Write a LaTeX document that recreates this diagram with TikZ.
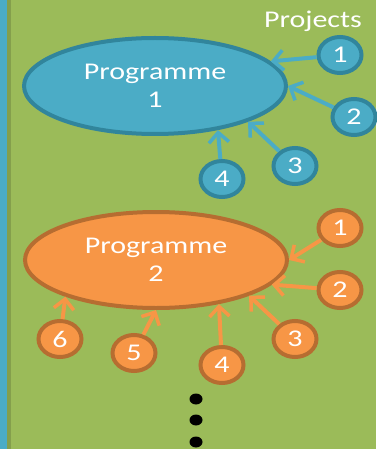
\documentclass[tikz,border=0pt]{standalone}
\usepackage{fontspec}
\usepackage{graphicx}
\setmainfont{Carlito}
\usetikzlibrary{shapes.geometric,arrows.meta}

\definecolor{slide}{HTML}{9BBB59}
\definecolor{slidedark}{HTML}{849F4C}
\definecolor{bluefill}{HTML}{4BACC6}
\definecolor{blueedge}{HTML}{31859C}
\definecolor{orangefill}{HTML}{F79646}
\definecolor{orangeedge}{HTML}{B66D31}

% letters run a bit wider than the plain font
\newcommand{\wide}[1]{\scalebox{1.25}[1]{#1}}

\begin{document}
\begin{tikzpicture}[x=1pt,y=-1pt]
		\tikzstyle{prog}=[ellipse,line width=4pt,inner sep=0pt,minimum width=262pt,minimum height=96pt,text=white,align=center,font=\fontsize{24}{28}\selectfont]
		\tikzstyle{proj}=[ellipse,line width=4pt,inner sep=0pt,minimum width=43pt,minimum height=36pt,text=white,font=\fontsize{24}{28}\selectfont]
		\tikzstyle{link}=[line width=4pt,-{Straight Barb[length=10pt,width=20pt,line width=3.5pt]}]
		
		\useasboundingbox (0,0) rectangle (376,449);
		\fill[slide] (0,0) rectangle (376,449);
		\fill[bluefill] (0,0) rectangle (7,449);
		\fill[slidedark] (7,0) rectangle (11,449);
		
		\node[text=white,anchor=base,font=\fontsize{24}{28}\selectfont] (projects) at (313,28) {\wide{Projects}};
		
		% first programme
		\node[prog,draw=blueedge,fill=bluefill] (prog1) at (155,86) {\wide{Programme}\\\wide{1}};
		\node[proj,draw=blueedge,fill=bluefill] (b1) at (340,55) {\wide{1}};
		\node[proj,draw=blueedge,fill=bluefill] (b2) at (354,117) {\wide{2}};
		\node[proj,draw=blueedge,fill=bluefill] (b3) at (295,166) {\wide{3}};
		\node[proj,draw=blueedge,fill=bluefill] (b4) at (222,179) {\wide{4}};
		
		\draw[link,bluefill] (b1) -- (prog1.12);
		\draw[link,bluefill] (b2) -- (prog1.east);
		\draw[link,bluefill] (b3) -- (prog1.-21);
		\draw[link,bluefill] (b4) -- (prog1.-35);
		
		% second programme
		\node[prog,draw=orangeedge,fill=orangefill] (prog2) at (156,260) {\wide{Programme}\\\wide{2}};
		\node[proj,draw=orangeedge,fill=orangefill] (o1) at (340,228) {\wide{1}};
		\node[proj,draw=orangeedge,fill=orangefill] (o2) at (340,290) {\wide{2}};
		\node[proj,draw=orangeedge,fill=orangefill] (o3) at (295,339) {\wide{3}};
		\node[proj,draw=orangeedge,fill=orangefill] (o4) at (222,365) {\wide{4}};
		\node[proj,draw=orangeedge,fill=orangefill] (o5) at (134,353) {\wide{5}};
		\node[proj,draw=orangeedge,fill=orangefill] (o6) at (60,339) {\wide{6}};
		
		\draw[link,orangefill] (o1) -- (prog2.east);
		\draw[link,orangefill] (o2) -- (prog2.-12);
		\draw[link,orangefill] (o3) -- (prog2.-21);
		\draw[link,orangefill] (o4) -- (prog2.-35);
		\draw[link,orangefill] (o5) -- (prog2.south);
		\draw[link,orangefill] (o6) -- (prog2.-158);
		
		% more below
		\fill (196,399) ellipse (6.5 and 5.5);
		\fill (196,420) ellipse (6.5 and 5.5);
		\fill (196,442) ellipse (6.5 and 5.5);
\end{tikzpicture}
\end{document}
